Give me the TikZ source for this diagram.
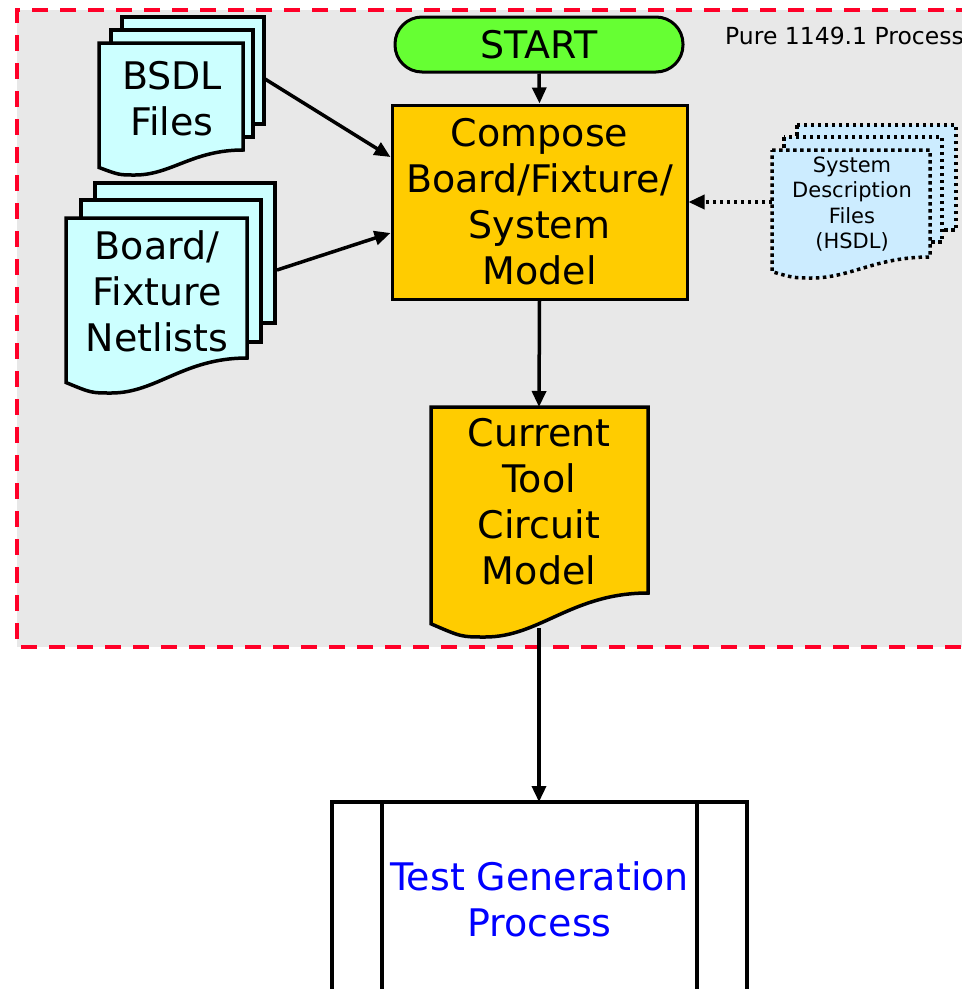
\documentclass[tikz,border=0pt]{standalone}
\usepackage{fontspec}
\setmainfont{DejaVu Sans}
\usetikzlibrary{arrows.meta,calc}

\definecolor{bggray}{HTML}{E8E8E8}
\definecolor{dashred}{HTML}{FF0028}
\definecolor{startgreen}{HTML}{66FF33}
\definecolor{procyellow}{HTML}{FFCC00}
\definecolor{filecyan}{HTML}{CCFFFF}
\definecolor{hsdlblue}{HTML}{CCECFF}
\definecolor{textblue}{HTML}{0000FF}

\tikzset{
  big/.style={font=\fontsize{38}{46}\selectfont, align=center, inner sep=0pt},
  small/.style={font=\fontsize{21}{25.5}\selectfont, align=center, inner sep=0pt},
  solidpage/.style={draw=black, line width=3.5pt, fill=filecyan, line join=miter},
  dotpage/.style={draw=black, line width=3.5pt, fill=hsdlblue, dash pattern=on 3.5pt off 3.5pt},
  % document outline: left, top, right, bottom of right edge, depth of the wave
  docpath/.style n args={5}{insert path={
    (#1,#2) -- (#3,#2) -- (#3,#4)
    .. controls ({#3-0.35*(#3-#1)},#4) and ({#1+0.5*(#3-#1)},{#4+#5}) ..
    ({#1+0.25*(#3-#1)},{#4+#5})
    .. controls ({#1+0.14*(#3-#1)},{#4+#5}) ..
    (#1,{#4+0.7*#5}) -- cycle}},
  flow/.style={line width=3.5pt, -{Triangle[length=16pt,width=14pt]}},
  dotflow/.style={line width=3.5pt, dash pattern=on 3.5pt off 3.5pt,
    -{Triangle[length=16pt,width=14pt]}},
}

\begin{document}
\begin{tikzpicture}[x=1pt,y=-1pt]
\useasboundingbox (0,0) rectangle (962,989);
\clip (0,0) rectangle (962,989);

% process region
\fill[bggray] (17,10) rectangle (1000,647);
\draw[dashred, line width=4pt, dash pattern=on 16pt off 12pt] (1000,10) -- (17,10) -- (17,647) -- (1000,647);
\node[font=\fontsize{23.5}{28}\selectfont, anchor=west, inner sep=0pt] (title) at (725,36) {Pure 1149.1 Process};

% START
\node[draw=black, line width=3pt, fill=startgreen, rounded corners=27pt,
      minimum width=288pt, minimum height=55pt, font=\fontsize{38}{46}\selectfont, inner sep=0pt]
  (start) at (539,44.5) {START};

% compose model
\node[draw=black, line width=3pt, fill=procyellow, minimum width=295pt, minimum height=194pt, big]
  (compose) at (539.5,202) {Compose\\Board/Fixture/\\System\\Model};

% BSDL files
\draw[solidpage] (122,17) rectangle (264,124);
\draw[solidpage] (111,30) rectangle (253,137);
\draw[solidpage] [docpath={99}{43}{243}{150}{25}];
\node[big] (bsdl) at (172,99) {BSDL\\Files};

% board / fixture netlists
\draw[solidpage] (95,183) rectangle (275,323);
\draw[solidpage] (81,200) rectangle (261,342);
\draw[solidpage] [docpath={66}{218}{247}{358}{35}];
\node[big] (netlist) at (157,291) {Board/\\Fixture\\Netlists};

% system description files
\draw[dotpage] (797,125) rectangle (956,230);
\draw[dotpage] (784,137) rectangle (942,242);
\draw[dotpage] [docpath={772}{150}{930}{257}{21}];
\node[small] (hsdl) at (852,204) {System\\Description\\Files\\(HSDL)};

% current tool circuit model
\draw[draw=black, line width=3.5pt, fill=procyellow] [docpath={431}{407}{648}{593}{44}];
\node[big] (current) at (539,502) {Current\\Tool\\Circuit\\Model};

% test generation (predefined process)
\draw[black, line width=3.5pt, fill=white] (332,1010) -- (332,802) -- (747,802) -- (747,1010);
\draw[black, line width=3.5pt] (382,802) -- (382,1010) (697,802) -- (697,1010);
\node[big, text=textblue] (testgen) at (539.5,899) {Test Generation\\Process};
\coordinate (testgentop) at (539,802);

% connector end points
\coordinate (bsdlout) at (265,79);
\coordinate (netout) at (277,270);
\coordinate (hsdlout) at (772,202);
\coordinate (currentout) at (539,628);

\draw[flow] (start.south) -- (compose.north);
\draw[flow] (bsdlout) -- ([yshift=45pt]compose.west);
\draw[flow] (netout) -- ([yshift=-31pt]compose.west);
\draw[dotflow] (hsdlout) -- (compose.east |- hsdlout);
\draw[flow] (compose.south) -- (current.north |- 0,407);
\draw[flow] (currentout) -- (testgentop);
\end{tikzpicture}
\end{document}
